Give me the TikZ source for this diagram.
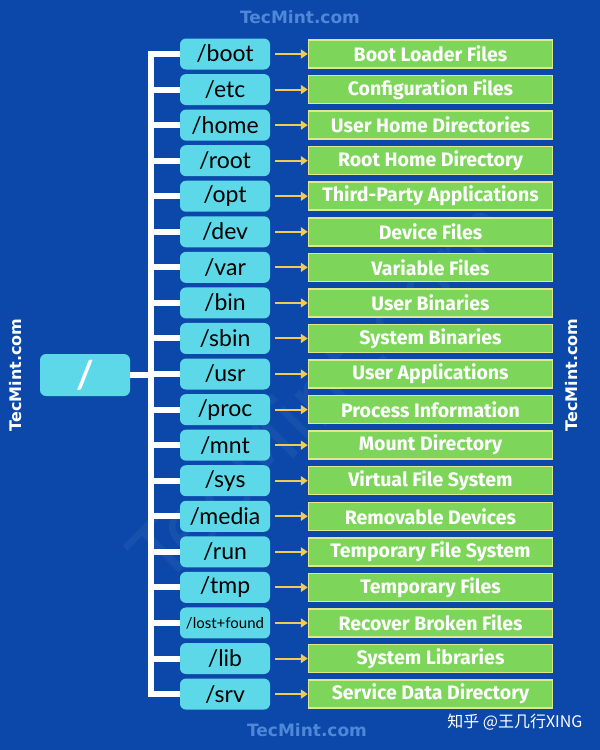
\documentclass[tikz,border=0pt]{standalone}
\usepackage{fontspec}
\setmainfont{Fira Sans}
\newfontfamily\dirfont{Lato}
\newfontfamily\wmfont{DejaVu Sans}
\newfontfamily\cjkfont{Noto Sans CJK SC}
\usetikzlibrary{arrows.meta}
\definecolor{bg}{HTML}{0B48AA}
\definecolor{cyanbox}{HTML}{5CD8E8}
\definecolor{greenbox}{HTML}{7DD65A}
\definecolor{greenedge}{HTML}{DDE98C}
\definecolor{arrowc}{HTML}{F2CB55}
\definecolor{wmblue}{HTML}{4E88D8}
\tikzset{
  dirbox/.style={fill=cyanbox, rounded corners=6pt, minimum width=90pt, minimum height=31pt, inner sep=0pt, text=black},
  descbox/.style={fill=greenbox, draw=greenedge, line width=1.5pt, minimum width=244pt, minimum height=28pt, inner sep=0pt, text=white, font=\bfseries\fontsize{19.5}{19.5}\selectfont},
  conn/.style={draw=white, line width=6pt},
  arr/.style={draw=arrowc, line width=2pt, -{Triangle[length=7pt,width=9pt]}, shorten <=5pt},
  wm/.style={text=wmblue, font=\wmfont\bfseries\fontsize{17}{17}\selectfont},
  sidewm/.style={text=white, font=\wmfont\bfseries\fontsize{16}{16}\selectfont, rotate=90}
}
\begin{document}
\begin{tikzpicture}[x=1pt,y=-1pt]
\fill[bg] (0,0) rectangle (600,750);
\useasboundingbox (0,0) rectangle (600,750);
% faint diagonal watermark
\node[text=white, opacity=0.05, rotate=45, font=\wmfont\fontsize{80}{80}\selectfont] (diag) at (320,390) {TecMint.com};
% top / bottom / side watermarks
\node[wm] (wtop) at (300,17) {TecMint.com};
\node[wm] (wbot) at (307,730) {TecMint.com};
\node[sidewm] (wleft) at (16,375) {TecMint.com};
\node[sidewm] (wright) at (572,375) {TecMint.com};
\node[text=white, font=\cjkfont\fontsize{16}{16}\selectfont, anchor=east] (zh) at (586,722) {知乎 @王几行XING};
% root
\node[fill=cyanbox, rounded corners=6pt, minimum width=90pt, minimum height=42pt, inner sep=0pt, text=white, font=\dirfont\bfseries\fontsize{38}{38}\selectfont] (root) at (85,375) {/};
\coordinate (troot) at (151,375);
% rows
\foreach \d/\t/\s [count=\i] in {
  boot/Boot Loader Files/23,
  etc/Configuration Files/23,
  home/User Home Directories/23,
  root/Root Home Directory/23,
  opt/Third-Party Applications/23,
  dev/Device Files/23,
  var/Variable Files/23,
  bin/User Binaries/23,
  sbin/System Binaries/23,
  usr/User Applications/23,
  proc/Process Information/23,
  mnt/Mount Directory/23,
  sys/Virtual File System/23,
  media/Removable Devices/23,
  run/Temporary File System/23,
  tmp/Temporary Files/23,
  lost+found/Recover Broken Files/15,
  lib/System Libraries/23,
  srv/Service Data Directory/23}{
  \pgfmathsetmacro\yy{54+(\i-1)*35.56}
  \node[dirbox, font=\dirfont\fontsize{\s}{\s}\selectfont] (d\i) at (225,\yy) {/\d};
  \node[descbox] (g\i) at (430.5,\yy) {\t};
  \coordinate (t\i) at (151,\yy);
  \draw[arr] (d\i) -- (g\i);
  \draw[conn] (t\i) -- (d\i.west);
}
\draw[conn, line cap=rect] (t1) -- (t19);
\draw[conn] (root.east) -- (troot);
\end{tikzpicture}
\end{document}
